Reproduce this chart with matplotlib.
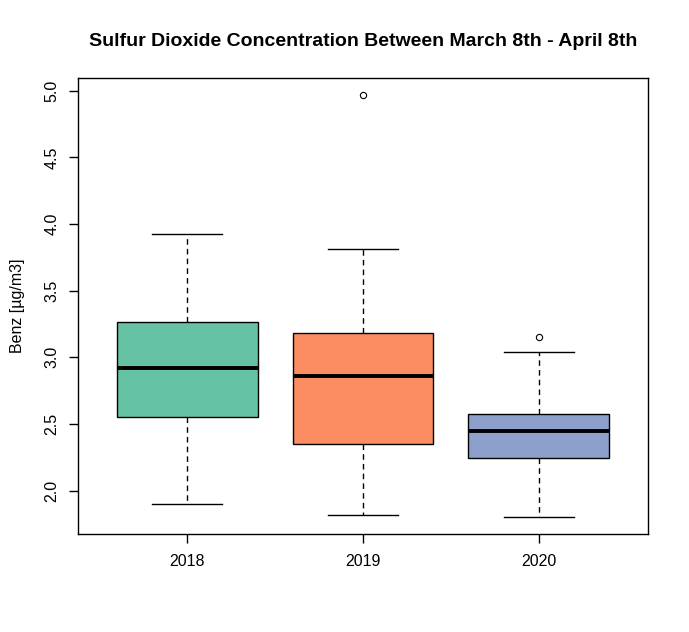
import matplotlib
matplotlib.use("Agg")
import matplotlib.pyplot as plt

#------------------------------------------------------------------------------------
# Box statistics (ug/m3)
#------------------------------------------------------------------------------------
years = ["2018", "2019", "2020"]
whisker_low = [1.90, 1.815, 1.80]
q1 = [2.553, 2.35, 2.243]
median = [2.92, 2.858, 2.445]
q3 = [3.265, 3.18, 2.573]
whisker_high = [3.925, 3.81, 3.038]
outliers = [[], [4.97], [3.15]]
colors = ["#66C2A5", "#FC8D62", "#8DA0CB"]

plt.rcParams['font.family'] = ['Liberation Sans', 'DejaVu Sans']

stats = []
for i, y in enumerate(years):
    stats.append({
        "label": y, "whislo": whisker_low[i], "q1": q1[i], "med": median[i],
        "q3": q3[i], "whishi": whisker_high[i], "fliers": outliers[i],
    })

fig = plt.figure(figsize=(6.89, 6.32), dpi=100)
ax = fig.add_axes([78.3 / 689, 1 - 534 / 632, (647.7 - 78.3) / 689, (534 - 78) / 632])

bp = ax.bxp(stats, positions=[1, 2, 3], widths=0.8, patch_artist=True,
            showfliers=True,
            boxprops=dict(edgecolor="black", linewidth=1.0),
            medianprops=dict(color="black", linewidth=2.8, solid_capstyle="butt"),
            whiskerprops=dict(color="black", linewidth=1.0, linestyle=(0, (4, 3))),
            capprops=dict(color="black", linewidth=1.0),
            capwidths=0.4,
            flierprops=dict(marker="o", markersize=4.5, markerfacecolor="none",
                            markeredgecolor="black", markeredgewidth=0.8))
for patch, c in zip(bp["boxes"], colors):
    patch.set_facecolor(c)

ax.set_xlim(0.38, 3.62)
ax.set_ylim(1.675, 5.095)
ax.set_yticks([2.0, 2.5, 3.0, 3.5, 4.0, 4.5, 5.0])
ax.set_yticklabels(["2.0", "2.5", "3.0", "3.5", "4.0", "4.5", "5.0"],
                   rotation=90, va="center")
ax.tick_params(axis="both", length=6.5, width=1, labelsize=11.5)
ax.tick_params(axis="x", pad=8)
ax.tick_params(axis="y", pad=7)
for s in ax.spines.values():
    s.set_linewidth(1.0)

ax.set_ylabel("Benz [µg/m3]", fontsize=11.5, labelpad=14)
fig.text(363 / 689, 1 - 42 / 632, "Sulfur Dioxide Concentration Between March 8th - April 8th",
         ha="center", va="center", fontsize=14, fontweight="bold")

fig.savefig("out.png", dpi=100)
